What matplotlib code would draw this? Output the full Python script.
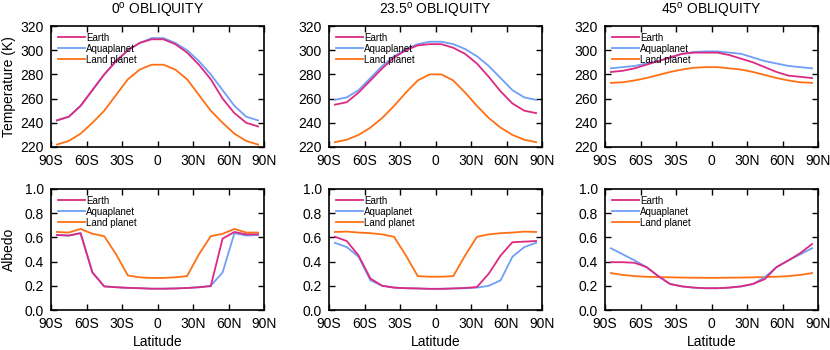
import matplotlib
matplotlib.use("Agg")
from matplotlib import pyplot as plt
import numpy as np

plt.rcParams['font.family'] = ['Liberation Sans', 'DejaVu Sans']
plt.rcParams['mathtext.fontset'] = 'custom'
plt.rcParams['mathtext.rm'] = 'Liberation Sans'

lat = [-85, -75, -65, -55, -45, -35, -25, -15, -5, 5, 15, 25, 35, 45, 55, 65, 75, 85]
xticks = [-90, -60, -30, 0, 30, 60, 90]
xticklabels = ['90S', '60S', '30S', '0', '30N', '60N', '90N']
titles = ['0', '23.5', '45']

# temperature (K)
temp_earth = [
    [242, 245, 254, 267, 280, 291, 300, 306, 309, 309, 305, 298, 288, 276, 260, 248, 240, 237],
    [255, 257, 265, 275, 285, 294, 300, 304, 305, 305, 302, 297, 289, 278, 266, 256, 250, 248],
    [282, 283, 285, 288, 291, 294, 297, 298, 298, 298, 296, 293, 290, 286, 282, 279, 278, 277],
]
temp_aqua = [
    [242, 245, 254, 267, 280, 291, 300, 306, 310, 310, 306, 300, 291, 280, 267, 254, 245, 242],
    [259, 261, 267, 277, 287, 295, 301, 305, 307, 307, 305, 301, 295, 287, 277, 267, 261, 259],
    [285, 286, 287, 289, 291, 294, 297, 298.5, 299, 299, 298, 297, 294, 291, 289, 287, 286, 285],
]
temp_land = [
    [222, 225, 231, 240, 250, 263, 276, 284, 288, 288, 284, 276, 263, 250, 240, 231, 225, 222],
    [224, 226, 230, 236, 244, 254, 265, 275, 280, 280, 275, 265, 254, 244, 236, 230, 226, 224],
    [273, 273.5, 275, 277, 279.5, 282, 284, 285.5, 286, 286, 285, 284, 282, 279.5, 277, 275, 273.5, 273],
]

# albedo
alb_earth = [
    [0.62, 0.615, 0.635, 0.31, 0.195, 0.188, 0.183, 0.18, 0.176, 0.176, 0.178, 0.182, 0.188, 0.197, 0.59, 0.645, 0.625, 0.625],
    [0.605, 0.57, 0.45, 0.26, 0.2, 0.185, 0.18, 0.178, 0.175, 0.175, 0.178, 0.182, 0.19, 0.3, 0.45, 0.56, 0.565, 0.57],
    [0.395, 0.395, 0.39, 0.355, 0.28, 0.215, 0.195, 0.185, 0.18, 0.18, 0.185, 0.195, 0.215, 0.255, 0.355, 0.41, 0.47, 0.545],
]
alb_aqua = [
    [0.62, 0.615, 0.635, 0.31, 0.195, 0.188, 0.183, 0.18, 0.176, 0.176, 0.178, 0.182, 0.188, 0.2, 0.31, 0.635, 0.615, 0.62],
    [0.555, 0.52, 0.44, 0.245, 0.2, 0.185, 0.18, 0.178, 0.175, 0.175, 0.178, 0.18, 0.185, 0.2, 0.245, 0.44, 0.52, 0.555],
    [0.51, 0.46, 0.41, 0.355, 0.28, 0.215, 0.195, 0.185, 0.18, 0.18, 0.185, 0.195, 0.215, 0.27, 0.355, 0.41, 0.46, 0.51],
]
alb_land = [
    [0.645, 0.64, 0.67, 0.63, 0.61, 0.46, 0.285, 0.27, 0.265, 0.265, 0.27, 0.28, 0.46, 0.61, 0.63, 0.67, 0.64, 0.64],
    [0.645, 0.648, 0.64, 0.635, 0.625, 0.605, 0.45, 0.28, 0.275, 0.275, 0.28, 0.45, 0.605, 0.625, 0.635, 0.64, 0.648, 0.645],
    [0.305, 0.29, 0.28, 0.275, 0.272, 0.27, 0.268, 0.267, 0.266, 0.266, 0.267, 0.268, 0.27, 0.272, 0.275, 0.28, 0.29, 0.305],
]

c_earth = '#dc2a82'
c_aqua = '#6f9ff7'
c_land = '#ff7014'

W, H = 830, 350
fig = plt.figure(figsize=(8.3, 3.5), dpi=100)
lefts = [51, 329, 605]
aw, ah = 213, 121


def style(ax):
    ax.set_xlim(-90, 90)
    ax.set_xticks(xticks)
    ax.set_xticklabels(xticklabels)
    ax.tick_params(direction='in', length=4, width=1, top=True, right=True,
                   labelsize=10, pad=5)
    for s in ax.spines.values():
        s.set_linewidth(1.2)


def lines(ax, e, a, l):
    ax.plot(lat, e, color=c_earth, lw=1.3, label='Earth', zorder=4)
    ax.plot(lat, a, color=c_aqua, lw=1.3, label='Aquaplanet', zorder=3)
    ax.plot(lat, l, color=c_land, lw=1.3, label='Land planet', zorder=2)
    ax.legend(loc='upper left', frameon=False, fontsize=7, handlelength=2.8,
              handletextpad=0.1, labelspacing=0.1, borderaxespad=0.3)


for i in range(3):
    ax = fig.add_axes([lefts[i] / W, 1 - 147 / H, aw / W, ah / H])
    lines(ax, temp_earth[i], temp_aqua[i], temp_land[i])
    style(ax)
    ax.set_ylim(220, 320)
    ax.set_yticks([220, 240, 260, 280, 300, 320])
    ax.set_title(titles[i] + r'$^\mathrm{o}$ OBLIQUITY', fontsize=10, pad=8)
    if i == 0:
        ax.set_ylabel('Temperature (K)', fontsize=10, labelpad=3)

    ax = fig.add_axes([lefts[i] / W, 1 - 310 / H, aw / W, ah / H])
    lines(ax, alb_earth[i], alb_aqua[i], alb_land[i])
    style(ax)
    ax.set_ylim(0, 1)
    ax.set_yticks([0, 0.2, 0.4, 0.6, 0.8, 1.0])
    ax.set_yticklabels(['0.0', '0.2', '0.4', '0.6', '0.8', '1.0'])
    ax.set_xlabel('Latitude', fontsize=10, labelpad=3)
    if i == 0:
        ax.set_ylabel('Albedo', fontsize=10, labelpad=6)

plt.savefig('out.png', dpi=100)
